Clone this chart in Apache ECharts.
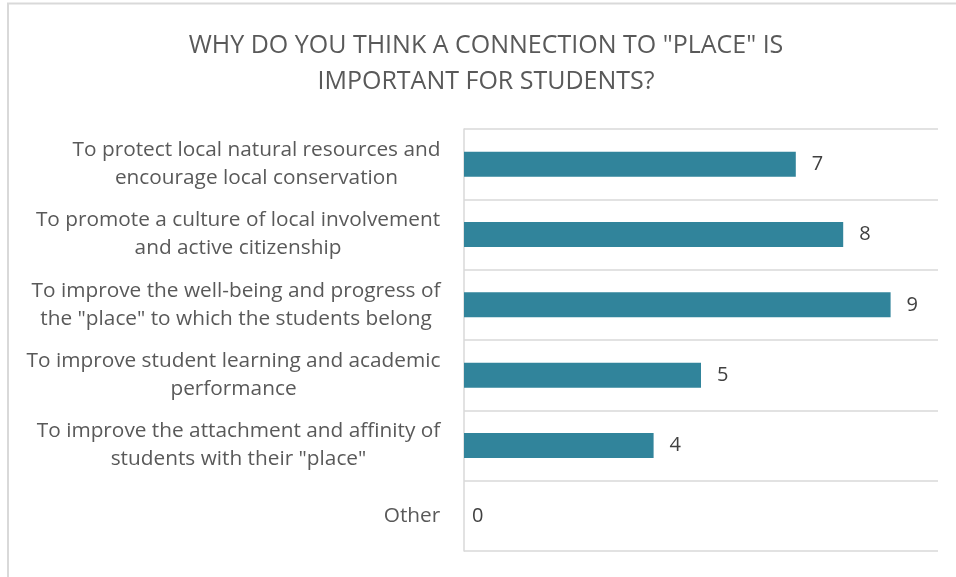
<!DOCTYPE html>
<html>
<head>
<meta charset="utf-8">
<script src="https://cdn.jsdelivr.net/npm/echarts@6/dist/echarts.min.js"></script>
<style>
  html, body { margin: 0; padding: 0; background: #fff; }
  #chart { width: 956px; height: 577px; }
</style>
</head>
<body>
<div id="chart"></div>
<script>
// Survey reasons, top to bottom
var categories = [
  'To protect local natural resources and\nencourage local conservation',
  'To promote a culture of local involvement\nand active citizenship',
  'To improve the well-being and progress of\nthe "place" to which the students belong',
  'To improve student learning and academic\nperformance',
  'To improve the attachment and affinity of\nstudents with their "place"',
  'Other'
];
var responses = [7, 8, 9, 5, 4, 0];
var titleLines = ['WHY DO YOU THINK A CONNECTION TO "PLACE" IS', 'IMPORTANT FOR STUDENTS?'];

var FONT = '"Open Sans", sans-serif';
var LABEL_SIZE = 20.8;
var chart = echarts.init(document.getElementById('chart'), null, { renderer: 'canvas' });

// Each wrapped label is a right-aligned block whose lines are centred,
// so give every category its own rich style as wide as its longest line.
var measureCtx = document.createElement('canvas').getContext('2d');
measureCtx.font = LABEL_SIZE + 'px ' + FONT;
var rich = {};
categories.forEach(function (name, i) {
  var w = 0;
  name.split('\n').forEach(function (line) {
    w = Math.max(w, measureCtx.measureText(line).width);
  });
  rich['c' + i] = {
    width: Math.ceil(w) + 1,
    align: 'center',
    fontFamily: FONT,
    fontSize: LABEL_SIZE,
    lineHeight: 28,
    color: '#595959'
  };
});

var barData = responses.map(function (v) {
  // zero-length bars sit right on the axis, so pull their label in
  return v === 0 ? { value: v, label: { distance: 8 } } : v;
});

chart.setOption({
  animation: false,
  backgroundColor: '#ffffff',
  graphic: [{
    type: 'polyline',
    shape: { points: [[8, 577], [8, 3.5], [956, 3.5]] },
    style: { stroke: '#d9d9d9', lineWidth: 2, fill: null },
    silent: true
  }],
  title: {
    text: titleLines.join('\n'),
    left: 481,
    top: 23,
    textAlign: 'center',
    textStyle: {
      fontFamily: FONT,
      fontWeight: 'normal',
      fontSize: 25,
      lineHeight: 36,
      color: '#595959'
    }
  },
  grid: { left: 464, right: 18, top: 129, bottom: 26, containLabel: false },
  xAxis: {
    type: 'value',
    min: 0,
    max: 10,
    interval: 1,
    show: false
  },
  yAxis: {
    type: 'category',
    data: categories,
    inverse: true,
    axisLine: { show: true, lineStyle: { color: '#d9d9d9', width: 1.5 } },
    axisTick: { show: false },
    splitLine: { show: true, lineStyle: { color: '#d9d9d9', width: 1.5 } },
    axisLabel: {
      margin: 23,
      align: 'right',
      fontFamily: FONT,
      fontSize: LABEL_SIZE,
      lineHeight: 28,
      color: '#595959',
      formatter: function (value, index) {
        return value.split('\n').map(function (line) {
          return '{c' + index + '|' + line + '}';
        }).join('\n');
      },
      rich: rich
    }
  },
  series: [{
    type: 'bar',
    data: barData,
    barWidth: 25,
    itemStyle: { color: '#31849B' },
    label: {
      show: true,
      position: 'right',
      distance: 16,
      fontFamily: FONT,
      fontSize: 20,
      color: '#404040'
    }
  }]
});
</script>
</body>
</html>
